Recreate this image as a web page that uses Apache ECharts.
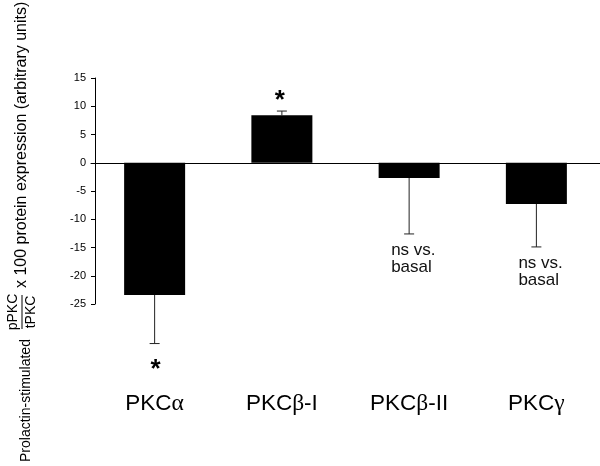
<!DOCTYPE html>
<html>
<head>
<meta charset="utf-8">
<script src="https://cdn.jsdelivr.net/npm/echarts@6/dist/echarts.min.js"></script>
<style>html,body{margin:0;padding:0;background:#fff}#c{width:600px;height:466px}</style>
</head>
<body>
<div id="c"></div>
<script>
// ---- data ----
const categories = ['PKCα', 'PKCβ-I', 'PKCβ-II', 'PKCγ'];
const values = [-23.4, 8.4, -2.7, -7.3];
const errors = [8.6, 0.75, 9.9, 7.6];
const notes = ['*', '*', 'ns vs.\nbasal', 'ns vs.\nbasal'];
const yMin = -25, yMax = 15, yStep = 5;

const FONT = 'Liberation Sans, Arial, sans-serif';
const chart = echarts.init(document.getElementById('c'), null, {renderer: 'canvas'});

function greekFmt(v) {
  return v.replace(/([α-ω])/g, '{g|$1}').replace(/^([^{]+)/, '{a|$1}').replace(/\}([^{]+)$/, '}{a|$1}');
}

const option = {
  animation: false,
  backgroundColor: '#fff',
  grid: {left: 91, right: -3, top: 78, bottom: 162},
  xAxis: [{
    type: 'category', data: categories,
    axisLine: {onZero: true, lineStyle: {color: '#000', width: 1}},
    axisTick: {show: false}, axisLabel: {show: false}, splitLine: {show: false}
  }, {
    type: 'category', data: categories, position: 'bottom', offset: 80,
    axisLine: {show: false, onZero: false}, axisTick: {show: false},
    axisLabel: {
      margin: 8, color: '#000',
      formatter: greekFmt,
      rich: {
        a: {fontFamily: FONT, fontSize: 22.5, color: '#000'},
        g: {fontFamily: 'Liberation Serif, serif', fontSize: 23.5, color: '#000'}
      }
    }
  }],
  yAxis: {
    type: 'value', min: yMin, max: yMax, interval: yStep, offset: -4,
    axisLine: {show: true, lineStyle: {color: '#000', width: 1}},
    axisTick: {show: true, length: 4, lineStyle: {color: '#000'}},
    axisLabel: {fontFamily: FONT, fontSize: 11, color: '#000', margin: 9},
    splitLine: {show: false}
  },
  series: [{
    type: 'bar', xAxisIndex: 0, data: values, barWidth: 61,
    itemStyle: {color: '#000'}
  }, {
    type: 'custom', xAxisIndex: 0, clip: false,
    data: values.map((v, i) => [i, v, errors[i]]),
    renderItem: function (params, api) {
      const i = api.value(0), v = api.value(1), e = api.value(2);
      const end = v + (v < 0 ? -e : e);
      const p0 = api.coord([i, v]);
      const p1 = api.coord([i, end]);
      const st = {stroke: '#222', lineWidth: 1};
      const children = [
        {type: 'line', shape: {x1: p0[0], y1: p0[1], x2: p1[0], y2: p1[1]}, style: st},
        {type: 'line', shape: {x1: p1[0] - 5, y1: p1[1], x2: p1[0] + 5, y2: p1[1]}, style: st}
      ];
      const note = notes[params.dataIndex];
      if (note === '*') {
        children.push({
          type: 'text', x: p1[0] + (v < 0 ? 1 : -2), y: v < 0 ? p1[1] + 26 : p1[1] - 10,
          style: {text: '*', font: 'bold 26px ' + FONT, fill: '#000', textAlign: 'center', textVerticalAlign: 'middle'}
        });
      } else if (note) {
        children.push({
          type: 'text', x: p1[0] - 18, y: p1[1] + 8,
          style: {text: note, font: '17px ' + FONT, lineHeight: 17, fill: '#111', textAlign: 'left', textVerticalAlign: 'top'}
        });
      }
      return {type: 'group', children: children};
    }
  }],
  graphic: [
    {type: 'text', x: 26, y: 462, rotation: Math.PI / 2,
     style: {text: 'Prolactin-stimulated', font: '14px ' + FONT, fill: '#000', textAlign: 'left', textVerticalAlign: 'middle'}},
    {type: 'text', x: 13, y: 312, rotation: Math.PI / 2,
     style: {text: 'pPKC', font: '14px ' + FONT, fill: '#000', textAlign: 'center', textVerticalAlign: 'middle'}},
    {type: 'text', x: 31, y: 312, rotation: Math.PI / 2,
     style: {text: 'tPKC', font: '14px ' + FONT, fill: '#000', textAlign: 'center', textVerticalAlign: 'middle'}},
    {type: 'line', shape: {x1: 22, y1: 295, x2: 22, y2: 329}, style: {stroke: '#000', lineWidth: 1}},
    {type: 'text', x: 22, y: 288, rotation: Math.PI / 2,
     style: {text: 'x 100 protein expression (arbitrary units)', font: '16px ' + FONT, fill: '#000', textAlign: 'left', textVerticalAlign: 'middle'}}
  ]
};
chart.setOption(option);
</script>
</body>
</html>
